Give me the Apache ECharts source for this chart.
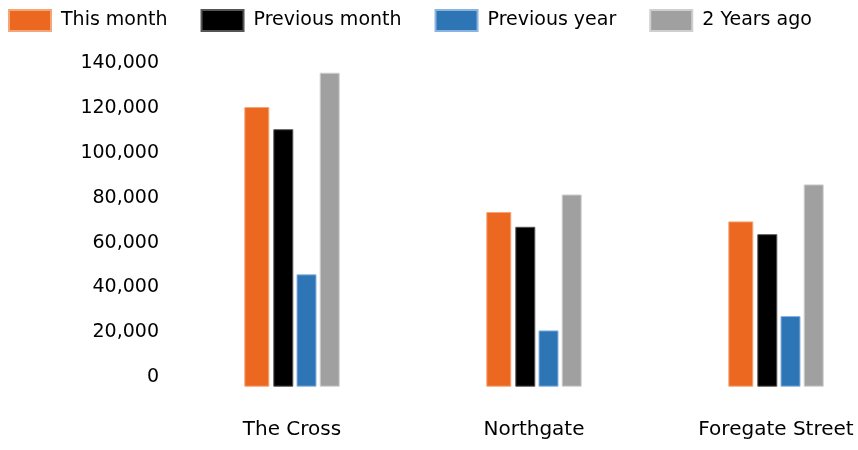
<!DOCTYPE html>
<html>
<head>
<meta charset="utf-8">
<script src="https://cdn.jsdelivr.net/npm/echarts@6/dist/echarts.min.js"></script>
<style>html,body{margin:0;padding:0;background:#fff;overflow:hidden;width:858px;height:450px;}#c{width:897px;height:450px;}</style>
</head>
<body>
<div id="c"></div>
<script>
const categories = ['The Cross', 'Northgate', 'Foregate Street'];
const seriesNames = ['This month', 'Previous month', 'Previous year', '2 Years ago'];
const thisMonth = [124700, 77900, 73700];
const previousMonth = [114800, 71300, 68000];
const previousYear = [50100, 25100, 31500];
const twoYearsAgo = [140000, 85700, 90200];
const yTicks = [0, 20000, 40000, 60000, 80000, 100000, 120000, 140000];

const colors = ['#EC671F', '#000000', '#2E75B6', '#A0A0A0'];
const borders = ['#F5A678', '#555555', '#8AB4E0', '#CFCFCF'];
const widths = [25, 20, 20, 20];
const values = [thisMonth, previousMonth, previousYear, twoYearsAgo];
const font = 'DejaVu Sans';

const chart = echarts.init(document.getElementById('c'));
chart.setOption({
  animation: false,
  backgroundColor: '#fff',
  legend: {
    left: 8, top: 9, padding: 0,
    itemWidth: 42, itemHeight: 21, itemGap: 33,
    icon: 'rect',
    data: seriesNames,
    textStyle: { fontFamily: font, fontSize: 19, color: '#000', padding: [0, 0, 0, 5] }
  },
  grid: { left: 171, top: 72.7, bottom: 63.3, right: 0, containLabel: false },
  xAxis: {
    type: 'category',
    data: categories,
    axisLine: { show: false },
    axisTick: { show: false },
    axisLabel: { fontFamily: font, fontSize: 20, color: '#000', margin: 33 }
  },
  yAxis: {
    type: 'value',
    min: yTicks[0], max: yTicks[yTicks.length - 1], interval: yTicks[1] - yTicks[0],
    splitLine: { show: false },
    axisLine: { show: false },
    axisTick: { show: false },
    axisLabel: {
      fontFamily: font, fontSize: 19, color: '#000', margin: 12,
      verticalAlign: 'bottom',
      formatter: v => v.toLocaleString('en-US')
    }
  },
  series: seriesNames.map((name, i) => ({
    name: name,
    type: 'bar',
    data: values[i],
    barWidth: widths[i],
    barGap: '16%',
    itemStyle: { color: colors[i], borderColor: borders[i], borderWidth: 1 }
  }))
});
</script>
</body>
</html>
